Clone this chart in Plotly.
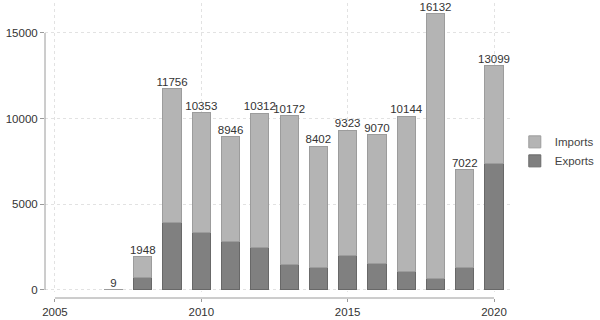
import plotly.graph_objects as go

years = [2007, 2008, 2009, 2010, 2011, 2012, 2013, 2014, 2015, 2016, 2017, 2018, 2019, 2020]
totals = [9, 1948, 11756, 10353, 8946, 10312, 10172, 8402, 9323, 9070, 10144, 16132, 7022, 13099]
exports = [0, 700, 3930, 3345, 2840, 2470, 1460, 1300, 2040, 1560, 1070, 660, 1300, 7355]
imports = [t - e for t, e in zip(totals, exports)]
x_ticks = [2005, 2010, 2015, 2020]
y_ticks = [0, 5000, 10000, 15000]

font_family = "Liberation Sans, Arial, sans-serif"
axis_col = "#9a9a9a"

fig = go.Figure()
fig.add_trace(go.Bar(x=years, y=exports, name="Exports", width=0.62,
                     marker=dict(color="#808080", line=dict(color="#686868", width=1))))
fig.add_trace(go.Bar(x=years, y=imports, name="Imports", width=0.62,
                     marker=dict(color="#b4b4b4", line=dict(color="#9c9c9c", width=1))))
fig.add_trace(go.Scatter(x=years, y=totals, mode="text", text=[str(t) for t in totals],
                         textposition="top center", showlegend=False, hoverinfo="skip",
                         textfont=dict(family=font_family, size=11.5, color="#333333")))

fig.update_layout(
    width=600, height=320,
    margin=dict(l=45, r=89, t=3, b=22, autoexpand=False),
    barmode="stack",
    plot_bgcolor="white", paper_bgcolor="white",
    font=dict(family=font_family, size=11.5, color="#333333"),
    legend=dict(xref="container", yref="container", x=0.858, y=0.527,
                xanchor="left", yanchor="middle", traceorder="reversed",
                font=dict(size=11.5, color="#444444"), bgcolor="rgba(0,0,0,0)",
                tracegroupgap=0),
    xaxis=dict(range=[2004.66, 2020.58], tickvals=x_ticks, ticks="outside", ticklen=3,
               tickcolor=axis_col, showline=False, zeroline=False,
               showgrid=True, gridcolor="#e2e2e2", griddash="dot", gridwidth=1,
               anchor="free", position=0),
    yaxis=dict(range=[-120, 16750], tickvals=y_ticks, tickformat="d", ticks="outside", ticklen=4,
               tickcolor=axis_col, showline=False, zeroline=False,
               showgrid=True, gridcolor="#e2e2e2", griddash="dot", gridwidth=1,
               domain=[0.0203, 1]),
    shapes=[
        dict(type="line", xref="x", yref="paper", x0=x_ticks[0], x1=x_ticks[-1], y0=0, y1=0,
             line=dict(color=axis_col, width=1)),
        dict(type="line", xref="paper", yref="y", x0=0, x1=0, y0=y_ticks[0], y1=y_ticks[-1],
             line=dict(color=axis_col, width=1)),
    ],
)

fig.write_html("out.html")
